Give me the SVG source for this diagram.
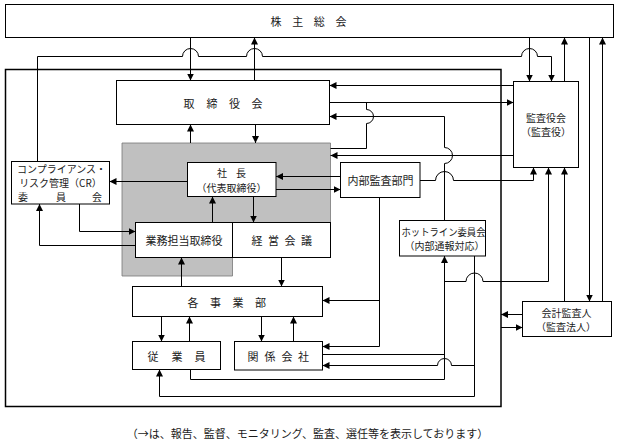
<svg xmlns="http://www.w3.org/2000/svg" width="620" height="445" viewBox="0 0 620 445">
<style>
.b{fill:#fff;stroke:#000;stroke-width:1}
.c{fill:none;stroke:#000;stroke-width:1}
.a{marker-end:url(#ah)}
text{font-family:"Noto Sans CJK JP","Noto Sans",sans-serif;font-size:11px;fill:#1a1a1a;text-anchor:middle;dominant-baseline:central}
.s{font-size:10px}
</style>
<defs>
<marker id="ah" markerWidth="8" markerHeight="7" refX="7" refY="3.5" orient="auto" markerUnits="userSpaceOnUse"><path d="M0,0 L7,3.5 L0,7 z" fill="#000"/></marker>
</defs>
<rect id="outer" x="5.5" y="69.5" width="495.5" height="337" fill="none" stroke="#000" stroke-width="1.5"/>
<polygon id="gray" points="122,143 330.5,143 330.5,257.5 232.5,257.5 232.5,276 122,276" fill="#c0c0c0" stroke="#777" stroke-width="0.8"/>
<g id="kabunushi"><rect class="b" x="5.5" y="4.5" width="608" height="33"/><text x="276 297.7 319.3 341" y="21">株主総会</text></g>
<g id="torishimariyakukai"><rect class="b" x="116.5" y="80.5" width="213" height="44"/><text x="189 212 234.5 257" y="102.5">取締役会</text></g>
<g id="kansayakukai"><rect class="b" x="513.5" y="81.5" width="65" height="86"/><text class="s" x="546" y="117">監査役会</text><text class="s" x="546" y="131">（監査役）</text></g>
<g id="shacho"><rect class="b" x="187.5" y="162.5" width="88.5" height="34"/><text class="s" x="222 241" y="172.5">社長</text><text class="s" x="231.5" y="187">（代表取締役）</text></g>
<g id="naibukansa"><rect class="b" x="340.5" y="162.5" width="79.5" height="35"/><text x="380.5" y="180">内部監査部門</text></g>
<g id="cr"><rect class="b" x="11.5" y="161.5" width="98" height="42.5"/><text class="s" x="61.5" y="168.5" textLength="89" lengthAdjust="spacingAndGlyphs">コンプライアンス・</text><text class="s" x="60.5" y="182.5">リスク管理（CR）</text><text class="s" x="23 61 97" y="196.5">委員会</text></g>
<g id="gyomu"><rect class="b" x="135.5" y="222.5" width="97" height="35"/><text x="184" y="240">業務担当取締役</text></g>
<g id="keiei"><rect class="b" x="232.5" y="222.5" width="98" height="35"/><text x="257 273.5 290 306.5" y="240">経営会議</text></g>
<g id="hotline"><rect class="b" x="399.5" y="220.5" width="86" height="35.5"/><text class="s" x="443.5" y="231" textLength="84" lengthAdjust="spacingAndGlyphs">ホットライン委員会</text><text class="s" x="444.5" y="245.5">（内部通報対応）</text></g>
<g id="jigyobu"><rect class="b" x="132.5" y="286.5" width="190" height="30"/><text x="193 215.5 238 260.5" y="301.5">各事業部</text></g>
<g id="jugyoin"><rect class="b" x="132.5" y="341.5" width="88" height="28"/><text x="153 177 200" y="355.5">従業員</text></g>
<g id="kankei"><rect class="b" x="234.5" y="341.5" width="88" height="28.5"/><text x="253 270 287 303.5" y="356">関係会社</text></g>
<g id="kaikei"><rect class="b" x="522.5" y="301.5" width="89" height="35"/><text class="s" x="566.5" y="312">会計監査人</text><text class="s" x="566" y="326.5">（監査法人）</text></g>
<g id="connectors">
<path class="c a" d="M190.5,37.5 V80.5"/>
<path class="c a" d="M254.5,80.5 V37.5"/>
<path class="c a" d="M37.5,161.5 V56.5 H182.5 a8,8 0 0 1 16,0 H246.5 a8,8 0 0 1 16,0 H521.5 a8,8 0 0 1 16,0 H551.5 V81.5"/>
<path class="c a" d="M529.5,37.5 V81.5"/>
<path class="c a" d="M564.5,81.5 V37.5"/>
<path class="c a" d="M589.5,37.5 V301.5"/>
<path class="c a" d="M602.5,301.5 V37.5"/>
<path class="c a" d="M255.5,124.5 V143"/>
<path class="c a" d="M190.5,143 V124.5"/>
<path class="c a" d="M513.5,85.5 H329.5"/>
<path class="c a" d="M329.5,102.5 H513.5"/>
<path class="c" d="M330.5,148.5 H366.5 V123.5 a7,7 0 0 0 0,-14 V102.5"/>
<path class="c a" d="M444.5,220.5 V163.5 a8,8 0 0 0 0,-16 V116.5 H329.5"/>
<path class="c a" d="M513.5,155.5 H330.5"/>
<path class="c a" d="M187.5,181.5 H109.5"/>
<path class="c a" d="M340.5,176.5 H276"/>
<path class="c a" d="M276,189.5 H340.5"/>
<path class="c a" d="M420,180.5 H435.5 a9,9 0 0 1 18,0 H533.5 V167.5"/>
<path class="c a" d="M212.5,222.5 V196.5"/>
<path class="c a" d="M253.5,196.5 V222.5"/>
<path class="c a" d="M181.5,286.5 V257.5"/>
<path class="c a" d="M281.5,257.5 V286.5"/>
<path class="c a" d="M79.5,204 V231.5 H135.5"/>
<path class="c a" d="M135.5,245.5 H39.5 V204"/>
<path class="c a" d="M379.5,197.5 V346.5 H322.5"/>
<path class="c a" d="M379.5,300.5 H322.5"/>
<path class="c a" d="M161.5,316.5 V341.5"/>
<path class="c a" d="M189.5,341.5 V316.5"/>
<path class="c a" d="M261.5,316.5 V341.5"/>
<path class="c a" d="M293.5,341.5 V316.5"/>
<path class="c a" d="M190.5,369.5 V379.5 H444.5 V256"/>
<path class="c" d="M322.5,354.5 H444.5"/>
<path class="c a" d="M474.5,256 V396.5 H159.5 V369.5"/>
<path class="c a" d="M474.5,365.5 H451.5 a7,7 0 0 0 -14,0 H322.5"/>
<path class="c a" d="M444.5,281.5 H466 a8.5,8.5 0 0 1 17,0 H548.5 V167.5"/>
<path class="c a" d="M564.5,301.5 V167.5"/>
<path class="c a" d="M522.5,314.5 H501"/>
<path class="c a" d="M501,327.5 H522.5"/>
</g>
<text x="307.5" y="433">（→は、報告、監督、モニタリング、監査、選任等を表示しております）</text>
</svg>
